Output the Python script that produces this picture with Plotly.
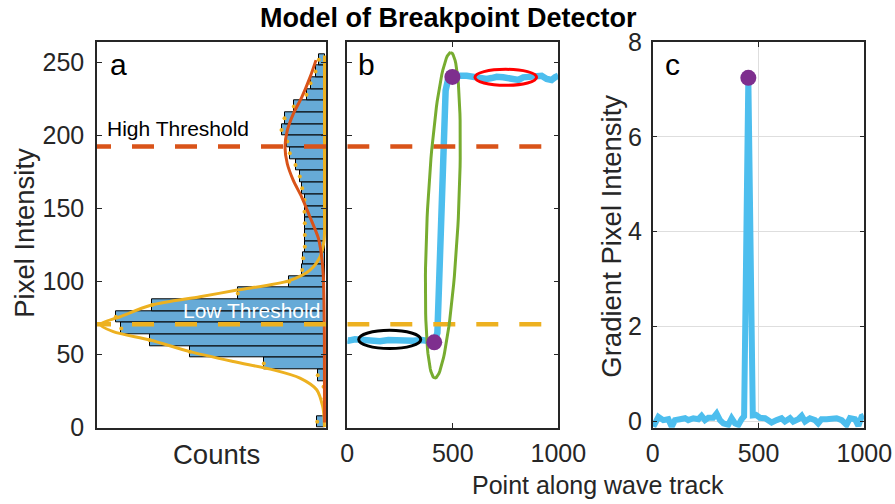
import numpy as np
import plotly.graph_objects as go

# ---------------- data ----------------
BIN_EDGES = list(range(0, 257, 8))
BIN_COUNTS = [7.3, None, None, 1, 6.7, 60.7, 134.7, 175, 203.3, 208.7, 172.3, 86.7,
              35.3, 22.3, 21.3, 19.7, 19.7, 19.7, 20, 20, 22.3, 24.7, 29, 34.7,
              37.3, 43, 40, 30.7, 18, 14, 9, 5.7]

LOW_FIT_Y = [0.5, 5.5, 14.5, 26, 34, 39.6, 45.3, 52.1, 60.1, 65.8, 70.8, 76, 84, 89.7,
             94.3, 100.6, 107.9, 117, 128.4, 150, 200, 255]
LOW_FIT_C = [0.1, 0.3, 1.8, 7.8, 24.5, 51.2, 91.2, 134.5, 174.5, 211.2, 224.5, 204.5,
             172.8, 124.5, 87.2, 35.8, 14.5, 4.5, 0.4, 0, 0, 0]

HIGH_FIT_Y = [3.6, 60, 85, 105.7, 120, 130, 144.3, 158, 169.4, 180.8, 192.2, 203.6,
              215, 226.3, 240, 251.8]
HIGH_FIT_C = [0, 0.1, 0.5, 1.3, 3.4, 6.2, 14.5, 22.8, 31.2, 37.2, 39.5, 37.2, 31.2,
              22.8, 14.5, 8.5]

HIGH_THRESHOLD = 192.6
LOW_THRESHOLD = 70.8

TRACK_X = [0, 5, 36.5, 76, 115.5, 155, 194.5, 234, 273.4, 313, 352.5, 384, 412,
           427, 442, 455, 466, 479, 498, 534, 566, 597, 629, 660, 684, 708, 739, 763,
           787, 811, 834, 858, 889, 921, 945, 968, 984, 1000]
TRACK_Y = [59.8, 59.6, 60.6, 60.1, 59.6, 59.2, 60.1, 59.6, 60.1, 59.6, 60.1, 59.6, 58.8,
           65, 128, 197, 231, 239.5, 240.3, 241.1, 241.1, 240.4, 240, 238.9, 239.5, 240.4,
           240, 239.5, 238.9, 238.2, 240, 240.6, 240.4, 241.1, 238.9, 238.2, 240, 241.1]
BREAK_X = [412, 498]
BREAK_Y = [58.5, 240.3]

GRAD_X = [3, 27, 50, 74, 90, 105, 129, 153, 168, 192, 216, 231, 247, 263, 286, 302, 318,
          334, 357, 373, 389, 405, 420, 432, 452, 473, 488, 507, 531, 546, 562, 586, 609,
          625, 649, 664, 688, 704, 720, 743, 767, 782, 798, 822, 846, 869, 893, 916, 932,
          956, 972, 987, 998]
GRAD_Y = [-0.12, 0.09, 0.02, 0.04, -0.12, 0.02, 0.04, 0.06, 0.02, 0.06, 0.04, 0.11, 0.02,
          0.07, 0.07, 0.16, 0.02, -0.05, -0.08, 0.06, -0.05, -0.08, 0.04, 0.1, 7.25, 0.12,
          0.13, 0.07, 0.06, 0.02, -0.03, 0.02, 0.06, -0.01, 0.06, -0.01, 0.04, 0.11, -0.01,
          0.06, 0.02, -0.05, 0.04, 0.04, 0.04, 0.06, 0.02, -0.08, 0.06, 0.04, -0.1, 0.09, 0.11]
PEAK_X = [452]
PEAK_Y = [7.25]

# ellipse annotations in panel b (data units)
GREEN_TOP = (490, 257)
GREEN_BOTTOM = (415.6, 34)
GREEN_HALF_WIDTH = 74
RED_BOX = (605, 897, 234.5, 245.5)
BLACK_BOX = (54, 348, 54.2, 66.7)

# ---------------- style ----------------
W, H = 895, 504
FONT = "Liberation Sans, Arial, Helvetica, sans-serif"
AXC = "#262626"
BLUE = "#4DBEEE"
ORANGE = "#D95319"
YELLOW = "#EDB120"
PURPLE = "#7E2F8E"
GREEN = "#77AC30"

TOP_PX, BOT_PX = 42.3, 427.7
YDOM = [1 - BOT_PX / H, 1 - TOP_PX / H]
A_DOM = [97 / W, 326 / W]
B_DOM = [347.3 / W, 558.3 / W]
C_DOM = [652.7 / W, 864.3 / W]

def px(xp):
    return xp / W

def py(yp):
    return 1 - yp / H

fig = go.Figure()

centers = [(BIN_EDGES[i] + BIN_EDGES[i + 1]) / 2 for i in range(len(BIN_EDGES) - 1)]

# ---- panel a ----
fig.add_trace(go.Bar(orientation="h", y=centers, x=BIN_COUNTS, width=8,
                     marker=dict(color="#66AAD7", line=dict(color="#000000", width=1)),
                     xaxis="x", yaxis="y", showlegend=False))
fig.add_trace(go.Scatter(x=[c if c is not None else 0 for c in BIN_COUNTS], y=centers,
                         mode="markers", marker=dict(color=YELLOW, size=4),
                         xaxis="x", yaxis="y", showlegend=False))
fig.add_trace(go.Scatter(x=LOW_FIT_C, y=LOW_FIT_Y, mode="lines",
                         line=dict(color=YELLOW, width=3, shape="spline", smoothing=0.8),
                         xaxis="x", yaxis="y", showlegend=False))
fig.add_trace(go.Scatter(x=HIGH_FIT_C, y=HIGH_FIT_Y, mode="lines",
                         line=dict(color=ORANGE, width=3, shape="spline", smoothing=0.8),
                         xaxis="x", yaxis="y", showlegend=False))
A_RANGE = [227.5, -1.5]
for val, col in [(HIGH_THRESHOLD, ORANGE), (LOW_THRESHOLD, YELLOW)]:
    fig.add_trace(go.Scatter(x=[A_RANGE[1], A_RANGE[0]], y=[val, val], mode="lines",
                             line=dict(color=col, width=4.5, dash="22px,21px"),
                             xaxis="x", yaxis="y", showlegend=False))

# ---- panel b ----
fig.add_trace(go.Scatter(x=TRACK_X, y=TRACK_Y, mode="lines",
                         line=dict(color=BLUE, width=6.5),
                         xaxis="x2", yaxis="y2", showlegend=False))
for val, col in [(HIGH_THRESHOLD, ORANGE), (LOW_THRESHOLD, YELLOW)]:
    fig.add_trace(go.Scatter(x=[0, 1000], y=[val, val], mode="lines",
                             line=dict(color=col, width=4.5, dash="22px,21px"),
                             xaxis="x2", yaxis="y2", showlegend=False))
t = np.linspace(0, 2 * np.pi, 120)
cx = (GREEN_TOP[0] + GREEN_BOTTOM[0]) / 2
cy = (GREEN_TOP[1] + GREEN_BOTTOM[1]) / 2
ax_, ay_ = GREEN_TOP[0] - cx, GREEN_TOP[1] - cy
fig.add_trace(go.Scatter(x=cx + np.cos(t) * ax_ + np.sin(t) * GREEN_HALF_WIDTH,
                         y=cy + np.cos(t) * ay_, mode="lines",
                         line=dict(color=GREEN, width=3),
                         xaxis="x2", yaxis="y2", showlegend=False))
for (x0, x1, y0, y1), col in [(RED_BOX, "#FF0000"), (BLACK_BOX, "#000000")]:
    fig.add_shape(type="circle", xref="x2", yref="y2", x0=x0, x1=x1, y0=y0, y1=y1,
                  line=dict(color=col, width=3), layer="above")
fig.add_trace(go.Scatter(x=BREAK_X, y=BREAK_Y, mode="markers",
                         marker=dict(color=PURPLE, size=16),
                         xaxis="x2", yaxis="y2", showlegend=False))

# ---- panel c ----
fig.add_trace(go.Scatter(x=GRAD_X, y=GRAD_Y, mode="lines",
                         line=dict(color=BLUE, width=6),
                         xaxis="x3", yaxis="y3", showlegend=False))
fig.add_trace(go.Scatter(x=PEAK_X, y=PEAK_Y, mode="markers",
                         marker=dict(color=PURPLE, size=16),
                         xaxis="x3", yaxis="y3", showlegend=False))

tickfont = dict(family=FONT, size=25, color=AXC)
common = dict(showline=True, linecolor=AXC, linewidth=1.5, ticks="inside", ticklen=5,
              tickwidth=1, tickcolor=AXC, mirror="ticks", tickfont=tickfont,
              zeroline=False, showgrid=False, fixedrange=True, automargin=False)

fig.update_layout(
    width=W, height=H, margin=dict(l=0, r=0, t=0, b=0, pad=0, autoexpand=False),
    paper_bgcolor="white", plot_bgcolor="white", showlegend=False,
    bargap=0,
    xaxis=dict(domain=A_DOM, range=A_RANGE, showline=True, linecolor=AXC, linewidth=1.5,
               mirror=True, ticks="", showticklabels=False, zeroline=False,
               showgrid=False, anchor="y", fixedrange=True, automargin=False),
    yaxis=dict(domain=YDOM, range=[0, 264], tickvals=[0, 50, 100, 150, 200, 250],
               anchor="x", ticklabelstandoff=6, **common),
    xaxis2=dict(domain=B_DOM, range=[0, 1000], tickvals=[0, 500, 1000], anchor="y2",
                ticklabelstandoff=3, **common),
    yaxis2=dict(domain=YDOM, range=[0, 264], tickvals=[0, 50, 100, 150, 200, 250],
                showticklabels=False, anchor="x2", **common),
    xaxis3=dict(domain=C_DOM, range=[0, 1000], tickvals=[0, 500, 1000], anchor="y3",
                ticklabelstandoff=3, **{**common, "showgrid": True, "gridcolor": "#DEDEDE",
                                        "gridwidth": 1}),
    yaxis3=dict(domain=YDOM, range=[-0.14, 8], tickvals=[0, 2, 4, 6, 8], anchor="x3",
                ticklabelstandoff=4, **{**common, "showgrid": True, "gridcolor": "#DEDEDE",
                                        "gridwidth": 1}),
)

def ann(text, x, y, size, color="#000000", angle=0, bold=False, xanchor="center"):
    fig.add_annotation(text=("<b>%s</b>" % text) if bold else text,
                       x=px(x), y=py(y), xref="paper", yref="paper",
                       xanchor=xanchor, yanchor="middle", showarrow=False,
                       textangle=angle, font=dict(family=FONT, size=size, color=color))

ann("Model of Breakpoint Detector", 448, 18.1, 27, bold=True)
ann("a", 118, 64.6, 30)
ann("b", 366.5, 64.6, 30)
ann("c", 672.5, 64.6, 30)
ann("High Threshold", 105, 128.7, 21, xanchor="left")
ann("Low Threshold", 322, 310, 21, color="#FFFFFF", xanchor="right")
ann("Counts", 216.7, 454.5, 27.5, color=AXC)
ann("Pixel Intensity", 23.8, 233, 27.5, color=AXC, angle=-90)
ann("Gradient Pixel Intensity", 611.2, 236.5, 27.5, color=AXC, angle=-90)
ann("Point along wave track", 598.3, 485.3, 25, color=AXC)

fig.write_html("out.html")
